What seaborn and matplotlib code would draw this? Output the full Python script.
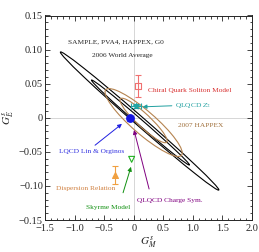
import matplotlib
matplotlib.use("Agg")
import matplotlib.pyplot as plt
from matplotlib.patches import Ellipse
from matplotlib.ticker import MultipleLocator
import seaborn as sns
import pandas as pd

# 置信椭圆 (中心, 半长轴, 半短轴, 角度)
ell_names = ["world_95", "world_68", "happex_95", "happex_68"]
ell_gm = [0.10, 0.114, 0.168, 0.167]
ell_ge = [-0.0048, -0.007, -0.007, -0.004]
ell_a = [1.344, 0.831, 0.654, 0.40]
ell_b = [0.009, 0.0055, 0.022, 0.013]
ell_angle = [-4.31, -4.29, -3.92, -4.3]

# 理论模型点
models = ["Chiral Quark Soliton Model", "QLQCD $Z_2$", "LQCD Lin & Orginos",
          "Dispersion Relation", "Skyrme Model"]
model_gm = [0.08, 0.04, -0.06, -0.32, -0.035]
model_ge = [0.047, 0.017, -0.001, -0.084, -0.061]
model_gm_err = [0.0, 0.08, 0.02, 0.0, 0.0]
model_ge_err = [0.016, 0.003, 0.004, 0.013, 0.0]

sns.set_theme(style="ticks")
plt.rcParams["font.family"] = ["Liberation Serif", "DejaVu Serif"]
plt.rcParams["mathtext.fontset"] = "stix"

fig = plt.figure(figsize=(2.59, 2.52), dpi=100)
ax = fig.add_axes([45 / 259, 1 - 220 / 252, 207 / 259, 204.5 / 252])

ax.axhline(0, color="#d0d0d0", lw=0.6, zorder=0)
ax.axvline(0, color="#d0d0d0", lw=0.6, zorder=0)

ell_colors = ["black", "black", "#b5834f", "#b5834f"]
for i in range(len(ell_names)):
    ax.add_patch(Ellipse((ell_gm[i], ell_ge[i]), 2 * ell_a[i], 2 * ell_b[i],
                         angle=ell_angle[i], fill=False, ec=ell_colors[i], lw=0.8))

df = pd.DataFrame({"model": models, "gm": model_gm, "ge": model_ge})
pt_colors = ["#f07070", "#20a5a5", "#1515e0", "#f0a040", "#20b020"]
pt_markers = ["s", "*", "o", "^", "v"]
for i in range(len(models)):
    ax.errorbar(model_gm[i], model_ge[i], xerr=model_gm_err[i] or None,
                yerr=model_ge_err[i] or None, fmt="none", ecolor=pt_colors[i],
                lw=0.8, capsize=2, capthick=0.8)
    sub = df.iloc[[i]]
    filled = pt_markers[i] in ("o", "^", "*")
    sns.scatterplot(data=sub, x="gm", y="ge", ax=ax, marker=pt_markers[i],
                    s=18 if i != 2 else 30,
                    color=pt_colors[i] if filled else "none",
                    edgecolor=pt_colors[i], linewidth=0.8, zorder=5, legend=False)

fs = 5.3
ax.text(-0.30, 0.111, "SAMPLE, PVA4, HAPPEX, G0", fontsize=fs, ha="center", va="center")
ax.text(-0.20, 0.0906, "2006 World Average", fontsize=fs, ha="center", va="center")
ax.text(0.943, 0.0407, "Chiral Quark Soliton Model", fontsize=fs, ha="center",
        va="center", color="#d83030")
ax.annotate("QLQCD $Z_2$", xy=(0.15, 0.016), xytext=(0.70, 0.0187), fontsize=fs,
            ha="left", va="center", color="#20a0a0",
            arrowprops=dict(arrowstyle="-|>", color="#20a0a0", lw=0.7,
                            mutation_scale=6, shrinkA=0, shrinkB=0))
ax.text(1.14, -0.011, "2007 HAPPEX", fontsize=fs, ha="center", va="center",
        color="#a0703c")
ax.annotate("", xy=(-0.199, -0.009), xytext=(-0.654, -0.0403),
            arrowprops=dict(arrowstyle="-|>", color="#2020e0", lw=0.7,
                            mutation_scale=6, shrinkA=0, shrinkB=0))
ax.text(-0.705, -0.049, "LQCD Lin & Orginos", fontsize=fs, ha="center", va="center",
        color="#3030e0")
ax.text(-0.807, -0.1045, "Dispersion Relation", fontsize=fs, ha="center",
        va="center", color="#d08040")
ax.annotate("", xy=(-0.046, -0.072), xytext=(-0.18, -0.110),
            arrowprops=dict(arrowstyle="-|>", color="#109010", lw=0.7,
                            mutation_scale=6, shrinkA=0, shrinkB=0))
ax.text(-0.435, -0.132, "Skyrme Model", fontsize=fs, ha="center", va="center",
        color="#109010")
ax.annotate("", xy=(0.005, -0.018), xytext=(0.26, -0.1045),
            arrowprops=dict(arrowstyle="-|>", color="#800080", lw=0.7,
                            mutation_scale=6, shrinkA=0, shrinkB=0))
ax.text(0.614, -0.1207, "QLQCD Charge Sym.", fontsize=fs, ha="center", va="center",
        color="#800080")

ax.set_xlim(-1.5, 2.0)
ax.set_ylim(-0.15, 0.15)
ax.set_xticks([-1.5, -1.0, -0.5, 0, 0.5, 1.0, 1.5, 2.0])
ax.set_xticklabels(["\u22121.5", "\u22121.0", "\u22120.5", "0", "0.5", "1.0", "1.5", "2.0"])
ax.set_yticks([-0.15, -0.10, -0.05, 0, 0.05, 0.10, 0.15])
ax.set_yticklabels(["\u22120.15", "\u22120.10", "\u22120.05", "0", "0.05", "0.10", "0.15"])
ax.xaxis.set_minor_locator(MultipleLocator(0.1))
ax.yaxis.set_minor_locator(MultipleLocator(0.01))
ax.tick_params(which="both", direction="in", top=True, right=True, labelsize=7.5,
               width=0.6, pad=1.5)
ax.tick_params(axis="x", which="major", pad=2.8)
ax.tick_params(which="major", length=3.5)
ax.tick_params(which="minor", length=1.8)
for sp in ax.spines.values():
    sp.set_linewidth(0.7)
ax.set_xlabel("$G_M^s$", fontsize=8, labelpad=1)
ax.set_ylabel("$G_E^s$", fontsize=8, labelpad=2)

fig.savefig("out.png", dpi=100)
